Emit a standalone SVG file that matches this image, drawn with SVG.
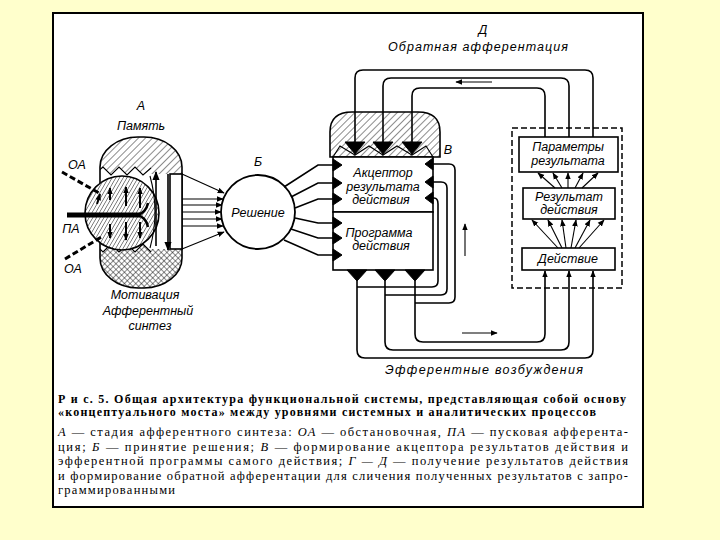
<svg xmlns="http://www.w3.org/2000/svg" width="720" height="540" viewBox="0 0 720 540">
<defs>
<pattern id="hatch" width="5" height="5" patternUnits="userSpaceOnUse" patternTransform="rotate(45)"><line x1="0" y1="0" x2="0" y2="5" stroke="#000" stroke-width="0.9"/></pattern>
<pattern id="dense" width="3.2" height="3.2" patternUnits="userSpaceOnUse" patternTransform="rotate(30)"><line x1="0" y1="0" x2="0" y2="3.2" stroke="#000" stroke-width="0.9"/></pattern>
<pattern id="cross" width="4" height="4" patternUnits="userSpaceOnUse" patternTransform="rotate(45)"><line x1="0" y1="0" x2="0" y2="4" stroke="#000" stroke-width="0.9"/><line x1="0" y1="0" x2="4" y2="0" stroke="#000" stroke-width="0.9"/></pattern>
<marker id="ah" viewBox="0 0 10 10" refX="9" refY="5" markerWidth="7" markerHeight="7" markerUnits="userSpaceOnUse" orient="auto"><path d="M0,1 L10,5 L0,9 Z" fill="#000"/></marker>
<marker id="ahb" viewBox="0 0 10 10" refX="9" refY="5" markerWidth="9" markerHeight="9" markerUnits="userSpaceOnUse" orient="auto"><path d="M0,1 L10,5 L0,9 Z" fill="#000"/></marker>
<clipPath id="capclip"><rect x="100" y="137" width="82" height="151" rx="38" ry="30"/></clipPath>
</defs>
<style>
.ln{fill:none;stroke:#000;stroke-width:1.6}
.thin{fill:none;stroke:#000;stroke-width:1.1}
.box{fill:#fff;stroke:#000;stroke-width:1.6}
.lbl{font-family:"Liberation Sans","DejaVu Sans",sans-serif;font-style:italic;font-size:12.5px;fill:#000;text-anchor:middle}
.cap{font-family:"Liberation Serif","DejaVu Serif",serif;font-size:12.5px;fill:#000}
.capb{font-family:"Liberation Serif","DejaVu Serif",serif;font-size:12px;font-weight:bold;fill:#000}
.tri{fill:#000;stroke:#000;stroke-width:1}
</style>
<rect x="0" y="0" width="720" height="540" fill="#FFFFCC"/>
<rect x="53" y="13" width="590" height="494" fill="#fff" stroke="#000" stroke-width="2"/>

<g id="A">
<rect x="100" y="137" width="82" height="151" rx="38" ry="30" fill="url(#hatch)"/>
<g clip-path="url(#capclip)">
<rect x="95" y="240" width="95" height="55" fill="#fff"/>
<rect x="95" y="240" width="95" height="55" fill="url(#cross)"/>
<path d="M95,174 L103,167 L111,175 L119,167 L127,175 L135,167 L143,175 L151,168 L151,174 L190,174 L190,249 L151,249 L151,252 L143,244 L135,252 L127,244 L119,252 L111,244 L103,252 L95,244 Z" fill="#fff"/>
<path class="thin" d="M95,174 L103,167 L111,175 L119,167 L127,175 L135,167 L143,175 L151,168"/>
<path class="thin" d="M95,244 L103,252 L111,244 L119,252 L127,244 L135,252 L143,244 L151,252"/>
</g>
<rect x="100" y="137" width="82" height="151" rx="38" ry="30" fill="none" stroke="#000" stroke-width="1.6"/>
<circle cx="122" cy="213" r="37" fill="#fff"/>
<circle cx="122" cy="213" r="37" fill="url(#dense)" stroke="#000" stroke-width="1.6"/>
<path class="thin" d="M150,176 Q160,212 150,248"/>
<rect x="170" y="174" width="12" height="75" class="box"/>
<line class="ln" x1="156" y1="246" x2="156" y2="172" marker-end="url(#ahb)"/>
<line class="ln" x1="168" y1="174" x2="168" y2="250" marker-end="url(#ahb)"/>
<line x1="67" y1="215" x2="140" y2="215" stroke="#000" stroke-width="5"/>
<path d="M137,215 Q146,213 148,203 M137,215 Q146,217 148,227" fill="none" stroke="#000" stroke-width="2.5"/>
<g stroke="#000" stroke-width="2" fill="none">
<line x1="110" y1="200" x2="110" y2="188" marker-end="url(#ah)"/>
<line x1="126" y1="206" x2="126" y2="187" marker-end="url(#ah)"/>
<line x1="140" y1="208" x2="140" y2="188" marker-end="url(#ah)"/>
<line x1="110" y1="224" x2="110" y2="238" marker-end="url(#ah)"/>
<line x1="126" y1="222" x2="126" y2="240" marker-end="url(#ah)"/>
<line x1="140" y1="222" x2="140" y2="238" marker-end="url(#ah)"/>
<line x1="97" y1="204" x2="100" y2="194" marker-end="url(#ah)"/>
</g>
<line x1="62" y1="172" x2="99" y2="193" stroke="#000" stroke-width="3" stroke-dasharray="6,3"/>
<line x1="65" y1="259" x2="103" y2="236" stroke="#000" stroke-width="3" stroke-dasharray="6,3"/>
<text class="lbl" x="141" y="110">А</text>
<text class="lbl" x="141" y="130">Память</text>
<text class="lbl" x="77" y="169">ОА</text>
<text class="lbl" x="71" y="233">ПА</text>
<text class="lbl" x="73" y="273">ОА</text>
<text class="lbl" x="145" y="299">Мотивация</text>
<text class="lbl" x="148" y="315">Афферентный</text>
<text class="lbl" x="150" y="330">синтез</text>
</g>

<g id="B6">
<circle cx="258" cy="212" r="37" fill="#fff" stroke="#000" stroke-width="1.8"/>
<text class="lbl" x="258" y="166">Б</text>
<text class="lbl" x="258" y="217">Решение</text>
</g>

<g id="V">
<path d="M330,157 L330,132 Q330,112 352,112 L418,112 Q440,112 440,132 L440,157 Z" fill="url(#hatch)" stroke="#000" stroke-width="1.6"/>
<path class="thin" d="M333,157 L340,146 L355,155 L369,146 L383,155 L397,146 L412,155 L426,146 L433,157"/>
<path class="tri" d="M345,142 L365,142 L355,154 Z"/>
<path class="tri" d="M373,142 L393,142 L383,154 Z"/>
<path class="tri" d="M402,142 L422,142 L412,154 Z"/>
<rect x="333" y="157" width="100" height="55" class="box"/>
<rect x="333" y="212" width="100" height="58" class="box"/>
<path class="tri" d="M333,159 L342,165 L333,171 Z"/>
<path class="tri" d="M333,177 L342,183 L333,189 Z"/>
<path class="tri" d="M333,193 L342,199 L333,205 Z"/>
<path class="tri" d="M333,217 L342,223 L333,229 Z"/>
<path class="tri" d="M333,232 L342,238 L333,244 Z"/>
<path class="tri" d="M333,249 L342,255 L333,261 Z"/>
<path class="tri" d="M433,158 L425,164 L433,170 Z"/>
<path class="tri" d="M433,176 L425,182 L433,188 Z"/>
<path class="tri" d="M433,192 L425,198 L433,204 Z"/>
<path class="tri" d="M347,270 L367,270 L357,281 Z"/>
<path class="tri" d="M375,270 L395,270 L385,281 Z"/>
<path class="tri" d="M405,270 L425,270 L415,281 Z"/>
<text class="lbl" x="383" y="177">Акцептор</text>
<text class="lbl" x="383" y="191">результата</text>
<text class="lbl" x="381" y="204">действия</text>
<text class="lbl" x="379" y="237">Программа</text>
<text class="lbl" x="381" y="250">действия</text>
<text class="lbl" x="448" y="154">В</text>
</g>

<g id="G">
<rect x="512" y="128" width="110" height="160" fill="none" stroke="#000" stroke-width="1.5" stroke-dasharray="6,3"/>
<rect x="519" y="137" width="99" height="35" class="box"/>
<rect x="523" y="188" width="92" height="31" class="box"/>
<rect x="522" y="248" width="93" height="22" class="box"/>
<text class="lbl" x="568" y="151">Параметры</text>
<text class="lbl" x="568" y="165">результата</text>
<text class="lbl" x="569" y="201">Результат</text>
<text class="lbl" x="569" y="214">действия</text>
<text class="lbl" x="568" y="263">Действие</text>
</g>

<g id="labels">
<text class="lbl" x="483" y="34">Д</text>
<text class="lbl" x="478" y="51" textLength="180" lengthAdjust="spacing">Обратная афферентация</text>
<text class="lbl" x="484" y="374" textLength="198" lengthAdjust="spacing">Эфферентные возбуждения</text>
</g>

<g id="connectors">
<line class="thin" x1="182" y1="174" x2="224" y2="193" marker-end="url(#ah)"/>
<line class="thin" x1="182" y1="249" x2="224" y2="232" marker-end="url(#ah)"/>
<line class="thin" x1="182" y1="199" x2="223" y2="199" marker-end="url(#ah)"/>
<line class="thin" x1="182" y1="205" x2="222" y2="205" marker-end="url(#ah)"/>
<line class="thin" x1="182" y1="212" x2="221" y2="212" marker-end="url(#ah)"/>
<line class="thin" x1="182" y1="219" x2="222" y2="219" marker-end="url(#ah)"/>
<line class="thin" x1="182" y1="226" x2="223" y2="226" marker-end="url(#ah)"/>
<path class="ln" d="M284,187 L318,165 L334,165"/>
<path class="ln" d="M291,197 L318,183 L334,183"/>
<path class="ln" d="M295,208 L318,199 L334,199"/>
<path class="ln" d="M295,218 L318,223 L334,223"/>
<path class="ln" d="M291,229 L318,238 L334,238"/>
<path class="ln" d="M284,240 L318,255 L334,255"/>
<path class="ln" d="M593,137 L593,78 Q593,70 585,70 L363,70 Q355,70 355,78 L355,150"/>
<path class="ln" d="M569,137 L569,86 Q569,78 561,78 L391,78 Q383,78 383,86 L383,150"/>
<path class="ln" d="M545,137 L545,96 Q545,88 537,88 L420,88 Q412,88 412,96 L412,150"/>
<line class="thin" x1="492" y1="82" x2="456" y2="82" marker-end="url(#ah)"/>
<path class="ln" d="M433,198 L434,198 Q438,198 438,204 L438,281 Q438,287 432,287 L357,287"/>
<path class="ln" d="M433,182 L441,182 Q447,182 447,188 L447,289 Q447,295 441,295 L385,295"/>
<path class="ln" d="M433,164 L449,164 Q455,164 455,170 L455,297 Q455,303 449,303 L415,303"/>
<path class="ln" d="M357,281 L357,350 Q357,358 365,358 L585,358 Q593,358 593,350 L593,271" marker-end="url(#ah)"/>
<path class="ln" d="M385,281 L385,342 Q385,350 393,350 L561,350 Q569,350 569,342 L569,271" marker-end="url(#ah)"/>
<path class="ln" d="M415,281 L415,334 Q415,342 423,342 L537,342 Q545,342 545,334 L545,271" marker-end="url(#ah)"/>
<line class="thin" x1="462" y1="333" x2="497" y2="333" marker-end="url(#ah)"/>
<line class="thin" x1="465" y1="256" x2="465" y2="224" marker-end="url(#ah)"/>
<line class="thin" x1="555" y1="188" x2="538" y2="173" marker-end="url(#ah)"/>
<line class="thin" x1="562" y1="188" x2="553" y2="173" marker-end="url(#ah)"/>
<line class="thin" x1="568" y1="188" x2="568" y2="173" marker-end="url(#ah)"/>
<line class="thin" x1="575" y1="188" x2="583" y2="173" marker-end="url(#ah)"/>
<line class="thin" x1="582" y1="188" x2="598" y2="173" marker-end="url(#ah)"/>
<line class="thin" x1="558" y1="248" x2="532" y2="220" marker-end="url(#ah)"/>
<line class="thin" x1="562" y1="248" x2="548" y2="220" marker-end="url(#ah)"/>
<line class="thin" x1="566" y1="248" x2="562" y2="220" marker-end="url(#ah)"/>
<line class="thin" x1="571" y1="248" x2="576" y2="220" marker-end="url(#ah)"/>
<line class="thin" x1="575" y1="248" x2="590" y2="220" marker-end="url(#ah)"/>
<line class="thin" x1="579" y1="248" x2="604" y2="220" marker-end="url(#ah)"/>
</g>

<g id="caption">
<text class="capb" x="58" y="403" textLength="568" lengthAdjust="spacing">Р и с. 5. Общая архитектура функциональной системы, представляющая собой основу</text>
<text class="capb" x="58" y="416" textLength="538" lengthAdjust="spacing">«концептуального моста»  между уровнями системных и аналитических процессов</text>
<text class="cap" x="58" y="436" textLength="570" lengthAdjust="spacing"><tspan font-style="italic">А</tspan> — стадия афферентного синтеза: <tspan font-style="italic">ОА</tspan> — обстановочная, <tspan font-style="italic">ПА</tspan> — пусковая афферента-</text>
<text class="cap" x="58" y="451" textLength="570" lengthAdjust="spacing">ция; <tspan font-style="italic">Б</tspan> — принятие решения; <tspan font-style="italic">В</tspan> — формирование акцептора результатов действия и</text>
<text class="cap" x="58" y="465" textLength="570" lengthAdjust="spacing">эфферентной программы самого действия; <tspan font-style="italic">Г — Д</tspan> — получение результатов действия</text>
<text class="cap" x="58" y="480" textLength="570" lengthAdjust="spacing">и формирование обратной афферентации для сличения полученных результатов с запро-</text>
<text class="cap" x="58" y="494" textLength="117" lengthAdjust="spacing">граммированными</text>
</g>
</svg>
